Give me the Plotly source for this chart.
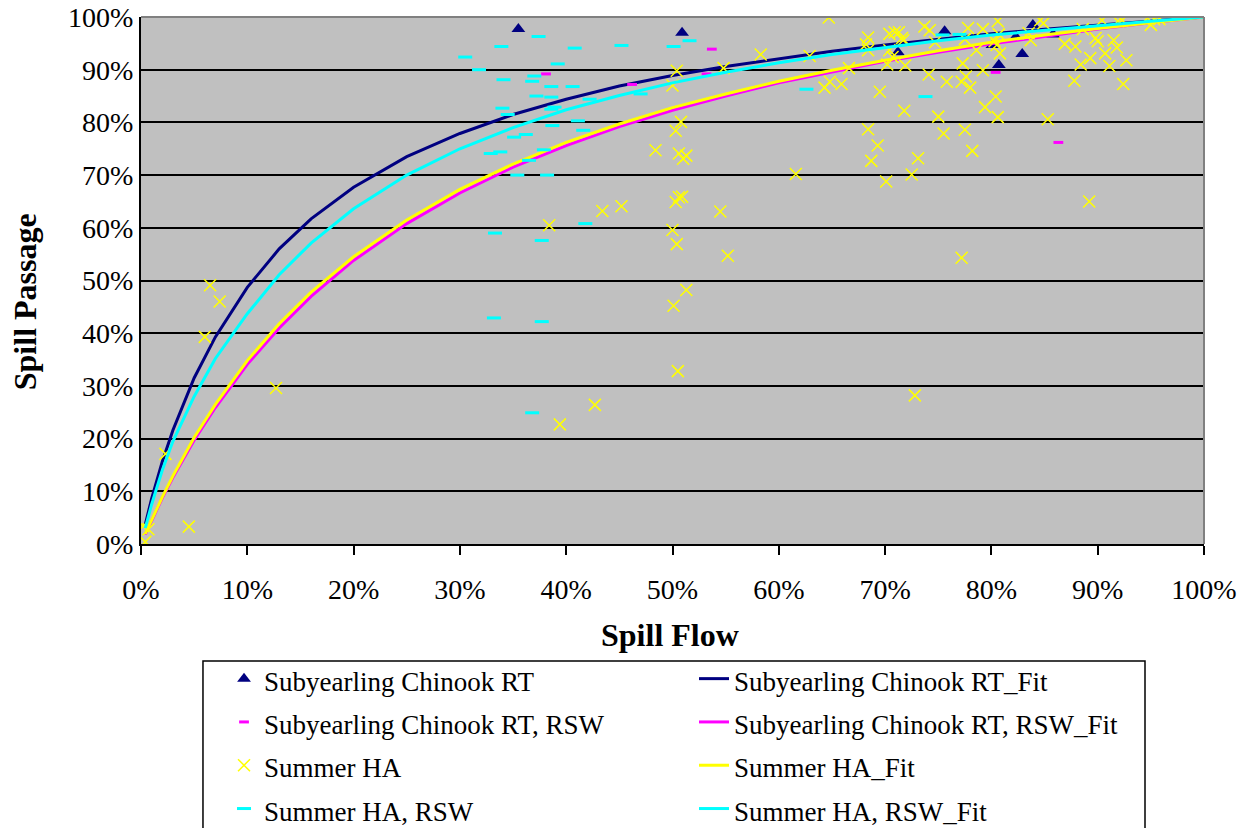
import plotly.graph_objects as go

# Observed spill flow / spill passage (fractions)
rt_x = [0.355, 0.509, 0.712, 0.756, 0.801, 0.807, 0.823, 0.829, 0.839, 0.858]
rt_y = [0.977, 0.970, 0.933, 0.973, 0.947, 0.909, 0.962, 0.930, 0.985, 0.967]

rt_rsw_x = [0.381, 0.462, 0.537, 0.532, 0.804, 0.863]
rt_rsw_y = [0.892, 0.872, 0.939, 0.892, 0.895, 0.762]

ha_x = [0.002, 0.007, 0.004, 0.045, 0.023, 0.060, 0.065, 0.074, 0.127,
        0.394, 0.427, 0.384, 0.434, 0.452, 0.484, 0.500, 0.504, 0.503, 0.506, 0.509,
        0.506, 0.513, 0.510, 0.503, 0.508, 0.500, 0.504, 0.548, 0.545, 0.552,
        0.501, 0.513, 0.505,
        0.583, 0.616, 0.629, 0.647, 0.643, 0.648, 0.659, 0.666,
        0.684, 0.682, 0.684, 0.684, 0.687, 0.693, 0.695, 0.701,
        0.704, 0.709, 0.713, 0.717, 0.704, 0.707, 0.702, 0.719, 0.716, 0.718, 0.725, 0.731, 0.728,
        0.737, 0.742, 0.747, 0.741, 0.758, 0.750, 0.755, 0.772,
        0.773, 0.776, 0.772, 0.780, 0.778, 0.775, 0.786, 0.775, 0.782,
        0.792, 0.792, 0.794, 0.804, 0.806,
        0.806, 0.807, 0.803, 0.805, 0.808,
        0.835, 0.837, 0.846, 0.849, 0.853,
        0.869, 0.879, 0.886, 0.884, 0.878, 0.893, 0.898, 0.900, 0.892,
        0.904, 0.907, 0.911, 0.915, 0.918, 0.919, 0.923, 0.927, 0.924,
        0.947, 0.953, 0.958, 0.950]
ha_y = [0.034, 0.028, 0.004, 0.033, 0.171, 0.393, 0.491, 0.460, 0.296,
        0.227, 0.264, 0.605, 0.632, 0.641, 0.747, 0.596, 0.569, 0.649, 0.658, 0.659,
        0.741, 0.737, 0.731, 0.784, 0.801, 0.870, 0.898, 0.903, 0.631, 0.547,
        0.452, 0.482, 0.328,
        0.929, 0.702, 0.926, 0.999, 0.866, 0.877, 0.873, 0.903,
        0.961, 0.948, 0.937, 0.787, 0.727, 0.756, 0.858, 0.688,
        0.968, 0.971, 0.971, 0.956, 0.937, 0.924, 0.910, 0.908, 0.960, 0.822, 0.701, 0.732, 0.282,
        0.982, 0.975, 0.952, 0.891, 0.877, 0.811, 0.779, 0.543,
        0.912, 0.887, 0.877, 0.866, 0.979, 0.958, 0.937, 0.786, 0.746,
        0.977, 0.899, 0.829, 0.849, 0.810,
        0.992, 0.967, 0.954, 0.947, 0.931,
        0.969, 0.956, 0.994, 0.988, 0.806,
        0.949, 0.944, 0.977, 0.910, 0.879, 0.922, 0.960, 0.954, 0.650,
        0.994, 0.931, 0.907, 0.956, 0.942, 0.992, 0.994, 0.918, 0.873,
        0.998, 0.996, 0.996, 0.985]

ha_rsw_x = [0.374, 0.339, 0.408, 0.452, 0.501, 0.516, 0.305, 0.318, 0.392,
            0.370, 0.368, 0.341, 0.386, 0.406, 0.372, 0.386, 0.422, 0.470,
            0.340, 0.389, 0.386, 0.345, 0.387, 0.411, 0.416, 0.362, 0.351,
            0.329, 0.338, 0.379, 0.365, 0.354, 0.382, 0.418, 0.333, 0.377,
            0.332, 0.377, 0.368, 0.626, 0.738, 0.754, 0.770]
ha_rsw_y = [0.963, 0.944, 0.941, 0.946, 0.944, 0.955, 0.924, 0.900, 0.911,
            0.888, 0.878, 0.881, 0.868, 0.868, 0.850, 0.848, 0.844, 0.854,
            0.827, 0.829, 0.825, 0.815, 0.794, 0.803, 0.785, 0.777, 0.772,
            0.741, 0.744, 0.748, 0.728, 0.700, 0.700, 0.608, 0.590, 0.576,
            0.429, 0.422, 0.249, 0.863, 0.849, 0.966, 0.967]

# Fitted curves, read along the spill flow axis
fit_x = [0.004, 0.01, 0.02, 0.03, 0.05, 0.07, 0.10, 0.13, 0.16, 0.20, 0.25,
         0.30, 0.35, 0.40, 0.45, 0.50, 0.55, 0.60, 0.65, 0.70, 0.75, 0.80,
         0.85, 0.90, 0.95, 1.00]
rt_fit_y = [0.037, 0.086, 0.156, 0.216, 0.315, 0.393, 0.487, 0.560, 0.617, 0.677, 0.735,
            0.779, 0.815, 0.844, 0.869, 0.889, 0.906, 0.921, 0.935, 0.947, 0.958, 0.968,
            0.977, 0.985, 0.992, 1.000]
rt_rsw_fit_y = [0.018, 0.045, 0.087, 0.126, 0.197, 0.259, 0.341, 0.410, 0.470, 0.538, 0.608,
                0.666, 0.715, 0.756, 0.792, 0.823, 0.850, 0.875, 0.896, 0.916, 0.933, 0.949,
                0.963, 0.977, 0.989, 1.000]
ha_fit_y = [0.019, 0.046, 0.089, 0.129, 0.202, 0.265, 0.348, 0.418, 0.478, 0.545, 0.615,
            0.673, 0.721, 0.762, 0.797, 0.828, 0.854, 0.878, 0.899, 0.918, 0.936, 0.952,
            0.966, 0.978, 0.989, 1.000]
ha_rsw_fit_y = [0.030, 0.075, 0.140, 0.195, 0.280, 0.352, 0.437, 0.511, 0.571, 0.636, 0.700,
                0.750, 0.790, 0.824, 0.851, 0.875, 0.895, 0.913, 0.929, 0.942, 0.955, 0.966,
                0.975, 0.984, 0.992, 1.000]

NAVY = "#000080"
MAGENTA = "#FF00FF"
YELLOW = "#FFFF00"
CYAN = "#00FFFF"
FONT = "Liberation Serif, Times New Roman, serif"


def entry(label):
    # legend label at 27px inside a taller legend row
    return '<span style="font-size:27px">' + label + "</span>"


fig = go.Figure()

fig.add_trace(go.Scatter(
    x=rt_x, y=rt_y, mode="markers", name=entry("Subyearling Chinook RT"),
    marker=dict(symbol="triangle-up", size=12, color=NAVY)))
fig.add_trace(go.Scatter(
    x=fit_x, y=rt_fit_y, mode="lines", name=entry("Subyearling Chinook RT_Fit"),
    line=dict(color=NAVY, width=3)))
fig.add_trace(go.Scatter(
    x=rt_rsw_x, y=rt_rsw_y, mode="markers", name=entry("Subyearling Chinook RT, RSW"),
    marker=dict(symbol="line-ew", size=7, line=dict(color=MAGENTA, width=3))))
fig.add_trace(go.Scatter(
    x=fit_x, y=rt_rsw_fit_y, mode="lines", name=entry("Subyearling Chinook RT, RSW_Fit"),
    line=dict(color=MAGENTA, width=3)))
fig.add_trace(go.Scatter(
    x=ha_x, y=ha_y, mode="markers", name=entry("Summer HA"),
    marker=dict(symbol="x-thin", size=12, line=dict(color=YELLOW, width=1.5))))
fig.add_trace(go.Scatter(
    x=fit_x, y=ha_fit_y, mode="lines", name=entry("Summer HA_Fit"),
    line=dict(color=YELLOW, width=3)))
fig.add_trace(go.Scatter(
    x=ha_rsw_x, y=ha_rsw_y, mode="markers", name=entry("Summer HA, RSW"),
    marker=dict(symbol="line-ew", size=10, line=dict(color=CYAN, width=3))))
fig.add_trace(go.Scatter(
    x=fit_x, y=ha_rsw_fit_y, mode="lines", name=entry("Summer HA, RSW_Fit"),
    line=dict(color=CYAN, width=3)))

fig.update_layout(
    width=1250, height=828,
    margin=dict(l=141, r=46, t=17, b=284, autoexpand=False),
    paper_bgcolor="white",
    plot_bgcolor="#C0C0C0",
    font=dict(family=FONT, color="black", size=28),
    legend=dict(
        orientation="h", x=0.0781, xanchor="left", y=-0.2049, yanchor="top",
        bgcolor="rgba(0,0,0,0)", borderwidth=0,
        font=dict(family=FONT, size=31), entrywidth=425, entrywidthmode="pixels",
        traceorder="normal", maxheight=400),
    xaxis=dict(
        range=[0, 1], dtick=0.1, tickformat=".0%", showgrid=False, zeroline=False,
        showline=True, linecolor="black", linewidth=2, ticks="outside", ticklen=9,
        tickcolor="black", tickwidth=2, tickfont=dict(size=28, family=FONT),
        ticklabelstandoff=10),
    yaxis=dict(
        range=[0, 1], dtick=0.1, tickformat=".0%", showgrid=True, gridcolor="black",
        gridwidth=2, zeroline=False, showline=True, linecolor="black", linewidth=2,
        ticks="", tickfont=dict(size=28, family=FONT), ticklabelstandoff=0),
    showlegend=True,
)

# Grey frame on the top and right sides of the plot area
fig.add_shape(type="line", xref="paper", yref="paper", x0=0, x1=1, y0=1, y1=1,
              line=dict(color="#808080", width=2))
fig.add_shape(type="line", xref="paper", yref="paper", x0=1, x1=1, y0=0, y1=1,
              line=dict(color="#808080", width=2))
# Legend frame, running past the bottom edge of the page
fig.add_shape(type="rect", xref="paper", yref="paper",
              x0=0.0583, x1=0.9445, y0=-0.222, y1=-0.5617,
              line=dict(color="black", width=1.5), fillcolor="rgba(0,0,0,0)")

fig.add_annotation(text="<b>Spill Flow</b>", xref="paper", yref="paper",
                   x=0.4977, y=-0.1727, showarrow=False,
                   font=dict(family=FONT, size=32, color="black"),
                   xanchor="center", yanchor="middle")
fig.add_annotation(text="<b>Spill Passage</b>", xref="paper", yref="paper",
                   x=-0.1090, y=0.459, showarrow=False, textangle=-90,
                   font=dict(family=FONT, size=32, color="black"),
                   xanchor="center", yanchor="middle")

fig.write_html("out.html")
